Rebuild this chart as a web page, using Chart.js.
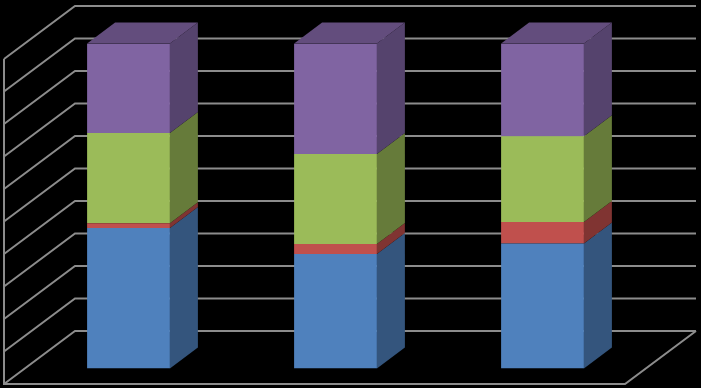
<!DOCTYPE html>
<html>
<head>
<meta charset="utf-8">
<style>html,body{margin:0;padding:0;background:#000;overflow:hidden}canvas{display:block}</style>
<script src="https://cdn.jsdelivr.net/npm/chart.js@4/dist/chart.umd.min.js"></script>
</head>
<body>
<canvas id="c" width="701" height="388"></canvas>
<script>
const categories = ["1", "2", "3"];
const blueValues = [43.2, 35.2, 38.5];
const redValues = [1.5, 3.1, 6.6];
const greenValues = [27.8, 27.7, 26.4];
const purpleValues = [27.5, 34.0, 28.5];
const tickStep = 10;

const seriesStyles = [
  { front: "#4f81bd", side: "#34557d" },
  { front: "#c0504d", side: "#803432" },
  { front: "#9bbb59", side: "#667b3a" },
  { front: "#8064a2", side: "#55436d", top: "#634d7d" }
];
const barDepth = { dx: 28, dy: 21 };
const wall = { left: 4, back: 75, right: 696, floorRight: 625, below: 15.5, dx: 71, dy: 53, color: "#8c8c8c" };

const depth3d = {
  id: "depth3d",
  beforeDatasetsDraw(chart) {
    const { ctx, scales: { y } } = chart;
    ctx.save();
    ctx.strokeStyle = wall.color;
    ctx.lineWidth = 2;
    ctx.lineJoin = "miter";
    y.ticks.forEach(t => {
      const py = y.getPixelForValue(t.value) + wall.below;
      ctx.beginPath();
      ctx.moveTo(wall.left, py);
      ctx.lineTo(wall.back, py - wall.dy);
      ctx.lineTo(wall.right, py - wall.dy);
      ctx.stroke();
    });
    const top = y.getPixelForValue(y.max) + wall.below;
    const bottom = y.getPixelForValue(y.min) + wall.below;
    ctx.beginPath();
    ctx.moveTo(wall.left, top);
    ctx.lineTo(wall.left, bottom);
    ctx.lineTo(wall.floorRight, bottom);
    ctx.lineTo(wall.right, bottom - wall.dy);
    ctx.stroke();

    const { dx, dy } = barDepth;
    chart.data.datasets.forEach((ds, i) => {
      chart.getDatasetMeta(i).data.forEach(bar => {
        const l = bar.x - bar.width / 2, r = bar.x + bar.width / 2;
        ctx.fillStyle = seriesStyles[i].side;
        ctx.beginPath();
        ctx.moveTo(r, bar.base);
        ctx.lineTo(r + dx, bar.base - dy);
        ctx.lineTo(r + dx, bar.y - dy);
        ctx.lineTo(r, bar.y);
        ctx.closePath();
        ctx.fill();
        if (seriesStyles[i].top) {
          ctx.fillStyle = seriesStyles[i].top;
          ctx.beginPath();
          ctx.moveTo(l, bar.y);
          ctx.lineTo(l + dx, bar.y - dy);
          ctx.lineTo(r + dx, bar.y - dy);
          ctx.lineTo(r, bar.y);
          ctx.closePath();
          ctx.fill();
        }
      });
    });
    ctx.restore();
  }
};

const seriesValues = [blueValues, redValues, greenValues, purpleValues];
new Chart(document.getElementById("c"), {
  type: "bar",
  data: {
    labels: categories,
    datasets: seriesValues.map((values, i) => ({
      data: values,
      backgroundColor: seriesStyles[i].front,
      borderWidth: 0,
      barPercentage: 0.4,
      categoryPercentage: 1
    }))
  },
  options: {
    responsive: false,
    animation: false,
    layout: { padding: { left: 25, right: 55, top: 43.5, bottom: 19.5 } },
    plugins: { legend: { display: false }, tooltip: { enabled: false }, title: { display: false } },
    scales: {
      x: { stacked: true, display: false },
      y: { stacked: true, display: false, min: 0, max: 100, ticks: { stepSize: tickStep } }
    }
  },
  plugins: [depth3d]
});
</script>
</body>
</html>
